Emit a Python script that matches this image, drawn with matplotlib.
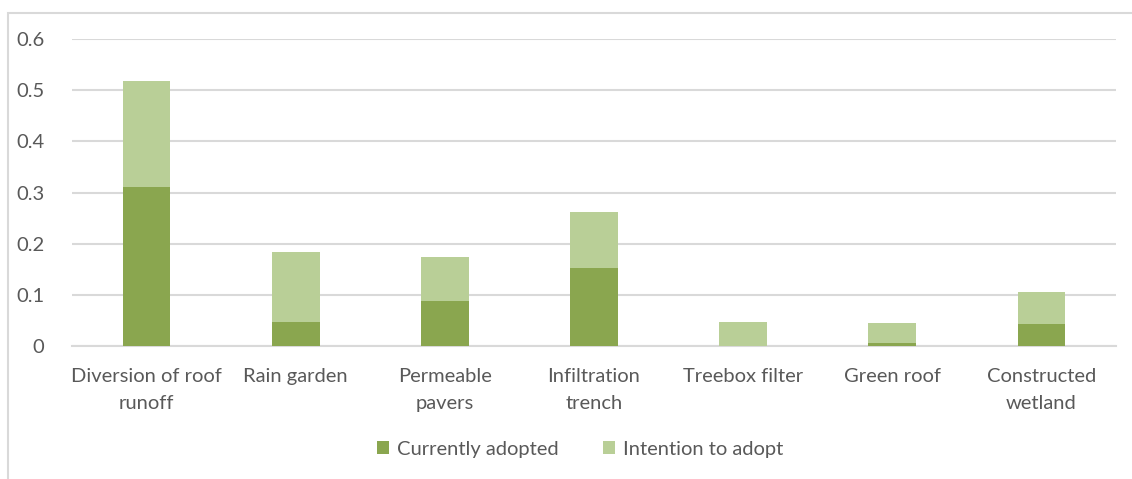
import numpy as np
import matplotlib.pyplot as plt
from matplotlib.patches import Rectangle

categories = ["Diversion of roof\nrunoff", "Rain garden", "Permeable\npavers",
              "Infiltration\ntrench", "Treebox filter", "Green roof", "Constructed\nwetland"]
currently_adopted = [0.31, 0.047, 0.088, 0.153, 0.0, 0.005, 0.043]
intention_to_adopt = [0.208, 0.137, 0.086, 0.109, 0.047, 0.040, 0.062]

dark = "#8aa64f"
light = "#b9cf97"
grid = "#d9d9d9"
txt = "#595959"

plt.rcParams["font.family"] = ["Lato", "DejaVu Sans"]

fig = plt.figure(figsize=(11.32, 4.79), dpi=100)
ax = fig.add_axes([72 / 1132, 1 - 346 / 479, (1116 - 72) / 1132, (346 - 39) / 479])

x = np.arange(len(categories))
ax.bar(x, currently_adopted, width=0.32, color=dark, label="Currently adopted", zorder=3)
ax.bar(x, intention_to_adopt, width=0.32, bottom=currently_adopted, color=light,
       label="Intention to adopt", zorder=3)

ax.set_xlim(-0.5, len(categories) - 0.5)
ax.set_ylim(0, 0.6)
ax.set_yticks(np.arange(0, 0.61, 0.1))
ax.set_yticklabels(["0", "0.1", "0.2", "0.3", "0.4", "0.5", "0.6"])
ax.yaxis.grid(True, color=grid, linewidth=1.5, zorder=0)
ax.set_xticks(x)
ax.set_xticklabels(categories, fontsize=14.5, color=txt, linespacing=1.7)
ax.tick_params(axis="y", labelsize=14.5, labelcolor=txt, length=0, pad=20)
ax.tick_params(axis="x", length=0, pad=16)
for side in ["top", "right", "left"]:
    ax.spines[side].set_visible(False)
ax.spines["bottom"].set_color(grid)
ax.spines["bottom"].set_linewidth(1.5)

leg = fig.legend(loc="center", bbox_to_anchor=(580 / 1132, 1 - 449 / 479), ncol=2,
                 frameon=False, fontsize=14.5, handlelength=0.6, handleheight=0.6,
                 handletextpad=0.4, columnspacing=2.2)
for t in leg.get_texts():
    t.set_color(txt)

# outer chart border
fig.patches.append(Rectangle((8 / 1132, -0.1), 1.2, 1 - 13 / 479 + 0.1,
                             transform=fig.transFigure, fill=False,
                             edgecolor=grid, linewidth=1.5))

fig.savefig("out.png", dpi=100)
